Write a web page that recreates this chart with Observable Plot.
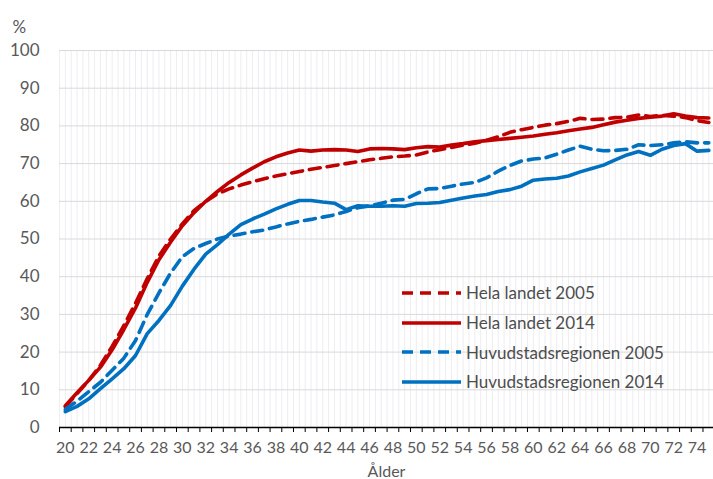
<!DOCTYPE html>
<html>
<head>
<meta charset="utf-8">
<script src="https://cdn.jsdelivr.net/npm/d3@7"></script>
<script src="https://cdn.jsdelivr.net/npm/@observablehq/plot@0.6"></script>
<style>
  html, body { margin: 0; padding: 0; background: #fff; }
  #wrap { position: relative; width: 713px; height: 479px; font-family: Lato, "Open Sans", sans-serif; }
  #legend { position: absolute; left: 402px; top: 278px; font-size: 17px; color: #4d4d4d; }
  #legend .row { display: flex; align-items: center; height: 29.7px; white-space: nowrap; }
  #legend svg { display: block; margin-right: 5px; }
</style>
</head>
<body>
<div id="wrap"></div>
<script>
// Categories (age) and tick labels
const ages = [20,21,22,23,24,25,26,27,28,29,30,31,32,33,34,35,36,37,38,39,40,41,42,43,44,45,46,47,48,49,50,51,52,53,54,55,56,57,58,59,60,61,62,63,64,65,66,67,68,69,70,71,72,73,74,75];
const xTickLabels = [20,22,24,26,28,30,32,34,36,38,40,42,44,46,48,50,52,54,56,58,60,62,64,66,68,70,72,74];
const yTicks = [0,10,20,30,40,50,60,70,80,90,100];

// Series values (%)
const helaLandet2005 = [5.5,9.0,12.5,16.5,21.5,27.0,33.0,39.5,45.5,50.0,54.0,57.5,60.0,62.0,63.3,64.3,65.2,66.0,66.7,67.3,67.9,68.5,69.0,69.5,70.0,70.5,71.0,71.4,71.8,72.0,72.3,73.1,73.7,74.3,74.9,75.4,76.2,77.1,78.3,79.0,79.6,80.2,80.6,81.2,82.0,81.7,81.8,82.2,82.3,82.9,82.5,82.8,82.6,82.2,81.4,80.9];
const helaLandet2014 = [5.8,9.2,12.5,16.0,20.6,26.0,31.7,38.5,44.5,49.2,53.5,57.0,60.0,62.6,65.0,67.0,68.8,70.5,71.8,72.8,73.6,73.3,73.6,73.7,73.6,73.2,73.9,74.0,73.9,73.7,74.2,74.5,74.4,74.9,75.3,75.8,76.1,76.4,76.7,77.0,77.3,77.8,78.2,78.7,79.2,79.6,80.3,81.0,81.5,82.0,82.3,82.6,83.2,82.6,82.2,82.1];
const huvudstad2005 = [4.8,7.0,9.5,12.0,15.2,18.4,23.1,30.0,35.7,41.0,45.3,47.5,48.8,50.0,50.8,51.3,51.9,52.4,53.2,54.0,54.7,55.2,55.8,56.4,57.3,58.3,58.8,59.5,60.3,60.5,62.0,63.3,63.4,64.0,64.6,65.0,66.2,68.0,69.5,70.7,71.2,71.5,72.5,73.6,74.6,73.8,73.4,73.5,73.8,75.0,74.8,75.0,75.5,75.8,75.5,75.5];
const huvudstad2014 = [4.2,5.6,7.6,10.3,12.9,15.6,19.1,24.9,28.4,32.4,37.5,42.0,46.0,48.5,51.3,53.8,55.3,56.6,58.0,59.2,60.2,60.2,59.8,59.5,57.8,58.8,58.7,58.7,58.8,58.7,59.4,59.5,59.7,60.3,60.9,61.4,61.8,62.6,63.1,64.0,65.6,65.9,66.1,66.7,67.8,68.7,69.6,71.0,72.3,73.2,72.2,73.8,74.8,75.3,73.3,73.5];

const seriesNames = ["Hela landet 2005", "Hela landet 2014", "Huvudstadsregionen 2005", "Huvudstadsregionen 2014"];
const seriesValues = [helaLandet2005, helaLandet2014, huvudstad2005, huvudstad2014];

// Styles
const RED = "#c00000", BLUE = "#0070c0";
const styles = [
  {stroke: RED, dash: "11,7"},
  {stroke: RED, dash: null},
  {stroke: BLUE, dash: "11,7"},
  {stroke: BLUE, dash: null}
];

const rows = seriesNames.flatMap((name, i) => ages.map((a, j) => ({series: name, age: a, value: seriesValues[i][j]})));
const bandEdges = [...ages.map(a => a - 0.5), ages[ages.length - 1] + 0.5];
const halfGrid = ages.flatMap(a => [a - 0.5, a]);

const font = "Lato, 'Open Sans', sans-serif";
const chart = Plot.plot({
  width: 713,
  height: 479,
  marginTop: 50,
  marginBottom: 52,
  marginLeft: 59,
  marginRight: 0,
  style: {fontFamily: font, background: "#fff", overflow: "visible"},
  x: {domain: [19.5, 75.4], axis: null},
  y: {domain: [0, 100], axis: null},
  marks: [
    Plot.gridX(halfGrid, {stroke: "#ededf2", strokeOpacity: 1}),
    Plot.gridY(yTicks, {stroke: "#d9d9d9", strokeOpacity: 1}),
    ...seriesNames.map((name, i) => Plot.line(rows.filter(d => d.series === name), {
      x: "age", y: "value", stroke: styles[i].stroke, strokeWidth: 3.6,
      strokeDasharray: styles[i].dash, strokeLinejoin: "round"
    })),
    Plot.ruleY([0], {stroke: "#000", strokeWidth: 1.6}),
    Plot.axisX(bandEdges, {tickSize: 5, tickFormat: () => "", stroke: "#000", label: null}),
    Plot.axisX(xTickLabels, {tickSize: 0, tickPadding: 14, fontSize: 16, fill: "#595959", label: null}),
    Plot.axisY(yTicks, {tickSize: 0, tickPadding: 20, fontSize: 17, fill: "#595959", label: null}),
    Plot.text(["%"], {frameAnchor: "top-left", dx: -47, dy: -30, textAnchor: "start", fontSize: 17, fill: "#595959"}),
    Plot.text(["Ålder"], {frameAnchor: "bottom", dy: 49, lineAnchor: "bottom", fontSize: 16, fill: "#595959"})
  ]
});

const wrap = document.getElementById("wrap");
wrap.appendChild(chart);

// Legend
const legend = document.createElement("div");
legend.id = "legend";
seriesNames.forEach((name, i) => {
  const row = document.createElement("div");
  row.className = "row";
  const sw = d3.create("svg").attr("width", 59).attr("height", 8);
  sw.append("line").attr("x1", 0).attr("x2", 59).attr("y1", 4).attr("y2", 4)
    .attr("stroke", styles[i].stroke).attr("stroke-width", 3.6)
    .attr("stroke-dasharray", styles[i].dash);
  row.appendChild(sw.node());
  const t = document.createElement("span");
  t.textContent = name;
  row.appendChild(t);
  legend.appendChild(row);
});
wrap.appendChild(legend);
</script>
</body>
</html>
